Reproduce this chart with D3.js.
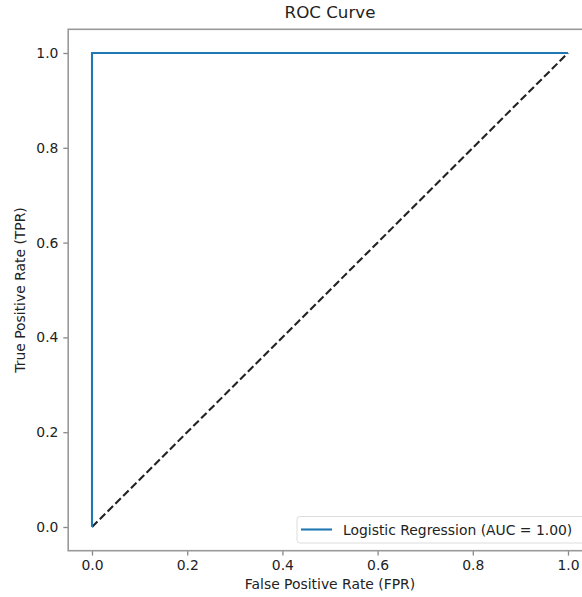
<!DOCTYPE html>
<html>
<head>
<meta charset="utf-8">
<script src="https://d3js.org/d3.v7.min.js"></script>
<style>
  body { margin: 0; background: #fff; }
  text { font-family: "DejaVu Sans", sans-serif; fill: #222; }
</style>
</head>
<body>
<div id="chart"></div>
<script>
var svgWidth = 582;
var svgHeight = 597;

// ROC curve points
var fpr = [0.0, 0.0, 1.0];
var tpr = [0.0, 1.0, 1.0];

// chance diagonal
var chanceX = [0, 1];
var chanceY = [0, 1];

var xTicks = [0.0, 0.2, 0.4, 0.6, 0.8, 1.0];
var yTicks = [0.0, 0.2, 0.4, 0.6, 0.8, 1.0];

var legendLabel = "Logistic Regression (AUC = 1.00)";

var plot = { left: 68.2, right: 591.8, top: 29.3, bottom: 550.7 };

var svg = d3.select("#chart")
    .append("svg")
    .attr("width", svgWidth)
    .attr("height", svgHeight);

var xScale = d3.scaleLinear()
    .domain([-0.05, 1.05])
    .range([plot.left, plot.right]);

var yScale = d3.scaleLinear()
    .domain([-0.05, 1.05])
    .range([plot.bottom, plot.top]);

var fontSize = 13.9;

// x axis
var bottomAxis = d3.axisBottom(xScale)
    .tickValues(xTicks)
    .tickFormat(d3.format(".1f"))
    .tickSize(4.9)
    .tickPadding(4.5);

var xAxis = svg.append("g")
    .attr("transform", `translate(0, ${plot.bottom})`)
    .call(bottomAxis);

// y axis
var leftAxis = d3.axisLeft(yScale)
    .tickValues(yTicks)
    .tickFormat(d3.format(".1f"))
    .tickSize(4.9)
    .tickPadding(4.9);

var yAxis = svg.append("g")
    .attr("transform", `translate(${plot.left}, 0)`)
    .call(leftAxis);

[xAxis, yAxis].forEach(function(ax) {
    ax.select(".domain").remove();
    ax.selectAll("line").attr("stroke", "#888").attr("stroke-width", 1.3);
    ax.selectAll("text")
        .attr("font-size", fontSize)
        .attr("font-family", "DejaVu Sans")
        .attr("fill", "#222");
});

// frame
svg.append("rect")
    .attr("x", plot.left)
    .attr("y", plot.top)
    .attr("width", plot.right - plot.left)
    .attr("height", plot.bottom - plot.top)
    .attr("fill", "none")
    .attr("stroke", "#999")
    .attr("stroke-width", 1.6);

// chance line
var line = d3.line()
    .x(d => xScale(d[0]))
    .y(d => yScale(d[1]));

svg.append("path")
    .datum(chanceX.map((x, i) => [x, chanceY[i]]))
    .attr("d", line)
    .attr("fill", "none")
    .attr("stroke", "#222")
    .attr("stroke-width", 2.1)
    .attr("stroke-dasharray", "7.7,3.3");

// ROC curve
svg.append("path")
    .datum(fpr.map((x, i) => [x, tpr[i]]))
    .attr("d", line)
    .attr("fill", "none")
    .attr("stroke", "#1f77b4")
    .attr("stroke-width", 2.1);

// legend
var legend = svg.append("g");

legend.append("rect")
    .attr("x", 297)
    .attr("y", 516.5)
    .attr("width", 288)
    .attr("height", 26.5)
    .attr("rx", 3)
    .attr("fill", "#fff")
    .attr("fill-opacity", 0.8)
    .attr("stroke", "#ddd")
    .attr("stroke-width", 1);

legend.append("line")
    .attr("x1", 301)
    .attr("x2", 332)
    .attr("y1", 529.5)
    .attr("y2", 529.5)
    .attr("stroke", "#1f77b4")
    .attr("stroke-width", 2.1);

legend.append("text")
    .attr("x", 343)
    .attr("y", 534.5)
    .attr("font-size", fontSize)
    .text(legendLabel);

// title and axis labels
svg.append("text")
    .attr("x", (plot.left + plot.right) / 2)
    .attr("y", 18)
    .attr("text-anchor", "middle")
    .attr("font-size", 16.7)
    .text("ROC Curve");

svg.append("text")
    .attr("x", (plot.left + plot.right) / 2)
    .attr("y", 589)
    .attr("text-anchor", "middle")
    .attr("font-size", fontSize)
    .text("False Positive Rate (FPR)");

svg.append("text")
    .attr("transform", `translate(25, ${(plot.top + plot.bottom) / 2}) rotate(-90)`)
    .attr("text-anchor", "middle")
    .attr("font-size", fontSize)
    .text("True Positive Rate (TPR)");
</script>
</body>
</html>
